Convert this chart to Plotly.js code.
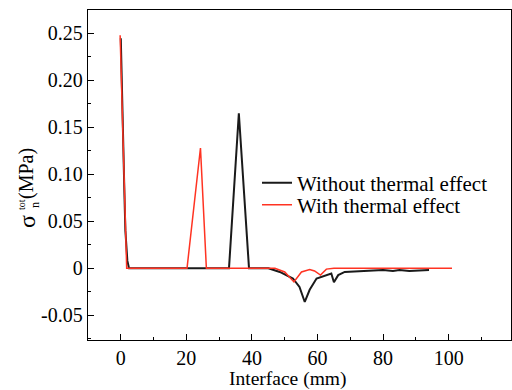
<!DOCTYPE html>
<html>
<head>
<meta charset="utf-8">
<script src="https://cdn.plot.ly/plotly-3.0.1.min.js"></script>
<style>html,body{margin:0;padding:0;background:#fff;}#chart{width:512px;height:390px;}</style>
</head>
<body>
<div id="chart"></div>
<script>
// Series: Without thermal effect
var xNoThermal = [0, 0.2, 0.5, 0.8, 1.1, 1.4, 1.7, 2.0, 2.5, 33.0, 36.0, 39.1, 45, 48.5, 52.5, 54.5, 56.1, 57.6, 59.7, 62.7, 64.2, 65.0, 66.3, 68.3, 75, 80, 83, 85, 88, 94];
var yNoThermal = [0.245, 0.22, 0.18, 0.13, 0.08, 0.04, 0.02, 0.008, 0, 0, 0.165, 0, 0, -0.004, -0.011, -0.02, -0.036, -0.023, -0.011, -0.0074, -0.0057, -0.015, -0.0074, -0.004, -0.003, -0.002, -0.003, -0.002, -0.003, -0.002];
// Series: With thermal effect
var xThermal = [-0.2, 1.8, 20.2, 24.3, 26.1, 47, 50, 52.8, 55.1, 57.6, 59.1, 60.9, 62.7, 65, 101];
var yThermal = [0.248, 0, 0, 0.128, 0, 0, -0.004, -0.0146, -0.004, -0.0014, -0.003, -0.0074, -0.001, 0, 0];
// Tick labels
var xTickVals = [0, 20, 40, 60, 80, 100];
var xTickText = ['0', '20', '40', '60', '80', '100'];
var yTickVals = [-0.05, 0, 0.05, 0.10, 0.15, 0.20, 0.25];
var yTickText = ['-0.05', '0', '0.05', '0.10', '0.15', '0.20', '0.25'];
var seriesNames = ['Without thermal effect', 'With thermal effect'];

var FONT = '"Liberation Serif", serif';
var L = 88, R = 1, T = 10, B = 50, W = 512, H = 390;
var pw = W - L - R, ph = H - T - B;
function px2x(px){ return (px - L) / pw; }
function px2y(py){ return (H - B - py) / ph; }

var traces = [
  {x: xNoThermal, y: yNoThermal, type: 'scatter', mode: 'lines', name: seriesNames[0],
   line: {color: '#1a1a1a', width: 2}, legend: 'legend'},
  {x: xThermal, y: yThermal, type: 'scatter', mode: 'lines', name: seriesNames[1],
   line: {color: '#ff3322', width: 1.5}, legend: 'legend2'}
];

var legendBase = {xanchor: 'left', yanchor: 'middle', bgcolor: 'rgba(0,0,0,0)',
  font: {family: FONT, size: 21, color: '#000'}, itemwidth: 30};

var layout = {
  width: W, height: H,
  margin: {l: L, r: R, t: T, b: B},
  paper_bgcolor: '#fff', plot_bgcolor: '#fff',
  font: {family: FONT, color: '#000', size: 20},
  showlegend: true,
  legend: Object.assign({}, legendBase, {x: px2x(257), y: px2y(183)}),
  legend2: Object.assign({}, legendBase, {x: px2x(257), y: px2y(205)}),
  xaxis: {
    range: [-10, 119], showgrid: false, zeroline: false,
    showline: true, linecolor: '#000', linewidth: 1.3, mirror: true,
    ticks: 'inside', ticklen: 6, tickcolor: '#000', tickwidth: 1,
    tickvals: xTickVals, ticktext: xTickText,
    tickfont: {family: FONT, size: 20, color: '#000'},
    minor: {ticks: 'inside', ticklen: 3, tickcolor: '#000', dtick: 10, tick0: 0, showgrid: false},
    title: {text: ''}
  },
  yaxis: {
    range: [-0.0765, 0.275], showgrid: false, zeroline: false,
    showline: true, linecolor: '#000', linewidth: 1.3, mirror: true,
    ticks: 'inside', ticklen: 6, tickcolor: '#000', tickwidth: 1,
    tickvals: yTickVals, ticktext: yTickText,
    tickfont: {family: FONT, size: 20, color: '#000'},
    minor: {ticks: 'inside', ticklen: 3, tickcolor: '#000', dtick: 0.025, tick0: 0, showgrid: false},
    title: {text: ''}
  },
  annotations: [
    {text: 'Interface (mm)', xref: 'paper', yref: 'paper', x: px2x(287), y: px2y(379),
     xanchor: 'center', yanchor: 'middle', showarrow: false, font: {family: FONT, size: 19.5, color: '#000'}},
    {text: '(MPa)', xref: 'paper', yref: 'paper', x: px2x(26), y: px2y(174),
     textangle: -90, xanchor: 'center', yanchor: 'middle', showarrow: false, font: {family: FONT, size: 20, color: '#000'}},
    {text: 'σ', xref: 'paper', yref: 'paper', x: px2x(27), y: px2y(221),
     textangle: -90, xanchor: 'center', yanchor: 'middle', showarrow: false, font: {family: FONT, size: 24, color: '#000'}},
    {text: 'tot', xref: 'paper', yref: 'paper', x: px2x(22), y: px2y(205),
     textangle: -90, xanchor: 'center', yanchor: 'middle', showarrow: false, font: {family: FONT, size: 10, color: '#000'}},
    {text: 'n', xref: 'paper', yref: 'paper', x: px2x(35), y: px2y(205),
     textangle: -90, xanchor: 'center', yanchor: 'middle', showarrow: false, font: {family: FONT, size: 12, color: '#000'}}
  ]
};

Plotly.newPlot('chart', traces, layout, {displayModeBar: false, staticPlot: true});
</script>
</body>
</html>
